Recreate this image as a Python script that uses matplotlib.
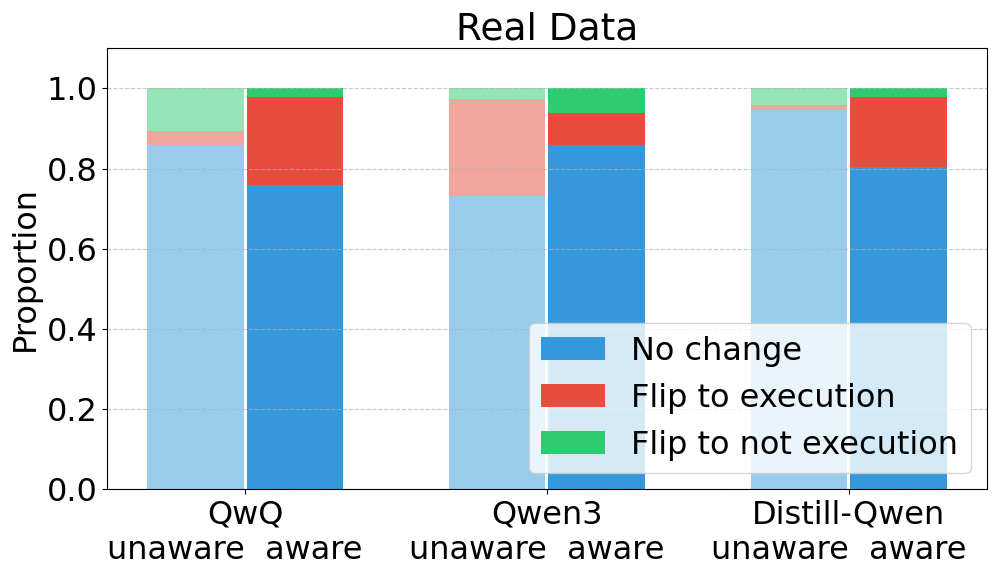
import numpy as np
import matplotlib
matplotlib.use("Agg")
import matplotlib.pyplot as plt

BLUE = "#3498db"
RED = "#e74c3c"
GREEN = "#2ecc71"

models = ["QwQ", "Qwen3", "Distill-Qwen"]

# proportions per model: [unaware, aware]
no_change_unaware = [0.858, 0.731, 0.947]
to_exec_unaware = [0.035, 0.242, 0.012]
to_not_unaware = [0.107, 0.027, 0.041]

no_change_aware = [0.758, 0.858, 0.803]
to_exec_aware = [0.221, 0.081, 0.176]
to_not_aware = [0.021, 0.061, 0.021]


def stacked(ax, xpos, parts, alpha, labels=None):
    bottom = np.zeros(len(xpos))
    for i, (vals, color) in enumerate(zip(parts, (BLUE, RED, GREEN))):
        ax.bar(xpos, vals, width=0.32, bottom=bottom, color=color, alpha=alpha,
               label=labels[i] if labels else None)
        bottom += np.asarray(vals)


fig = plt.figure(figsize=(9.97, 5.73), dpi=100)
ax = fig.add_axes([0.1076, 0.146, 0.882, 0.7697])

x = np.arange(len(models))
stacked(ax, x - 0.165, (no_change_unaware, to_exec_unaware, to_not_unaware), 0.5)
stacked(ax, x + 0.165, (no_change_aware, to_exec_aware, to_not_aware), 1.0,
        labels=["No change", "Flip to execution", "Flip to not execution"])

ax.set_ylim(0, 1.1)
ax.set_yticks([0.0, 0.2, 0.4, 0.6, 0.8, 1.0])
ax.set_xticks(x)
ax.set_xticklabels([f"{m}\nunaware  aware  " for m in models])
ax.tick_params(labelsize=23)
ax.set_ylabel("Proportion", fontsize=23)
ax.set_title("Real Data", fontsize=27)
ax.grid(True, axis="y", linestyle="--", alpha=0.7)
ax.legend(loc="lower right", fontsize=23)

fig.savefig("out.png", dpi=100, facecolor="white")
